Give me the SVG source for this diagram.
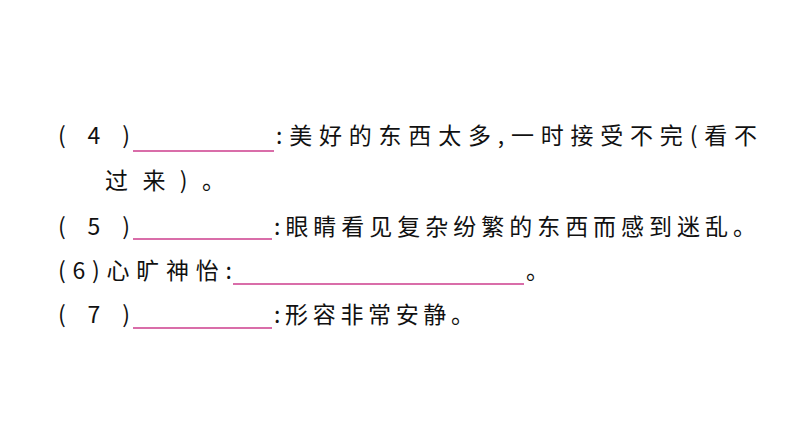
<svg xmlns="http://www.w3.org/2000/svg" width="794" height="447" viewBox="0 0 794 447">
<style>
text{font-family:"Noto Sans CJK SC","Liberation Sans",sans-serif;font-size:23px;fill:#111}
.u{stroke:#cc3d8c;stroke-width:1.3}
</style>
<rect width="794" height="447" fill="#fff"/>
<text x="58" y="144" textLength="72" lengthAdjust="spacing">(4)</text>
<line class="u" x1="133" y1="151" x2="274" y2="151"/>
<text x="276" y="144" textLength="481" lengthAdjust="spacing">:美好的东西太多,一时接受不完(看不</text>
<text x="105" y="189" textLength="120" lengthAdjust="spacing">过来)。</text>
<text x="58" y="235" textLength="72" lengthAdjust="spacing">(5)</text>
<line class="u" x1="133" y1="239" x2="272" y2="239"/>
<text x="274" y="235" textLength="482" lengthAdjust="spacing">:眼睛看见复杂纷繁的东西而感到迷乱。</text>
<text x="58" y="279" textLength="174" lengthAdjust="spacing">(6)心旷神怡:</text>
<line class="u" x1="233" y1="284" x2="524" y2="284"/>
<text x="526" y="279">。</text>
<text x="58" y="323" textLength="72" lengthAdjust="spacing">(7)</text>
<line class="u" x1="133" y1="328" x2="272" y2="328"/>
<text x="274" y="323" textLength="200" lengthAdjust="spacing">:形容非常安静。</text>
</svg>
